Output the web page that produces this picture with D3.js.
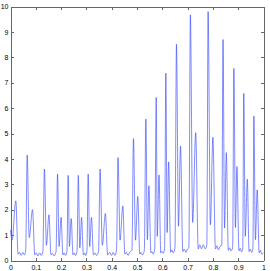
<!DOCTYPE html>
<html>
<head>
<meta charset="utf-8">
<script src="https://cdn.jsdelivr.net/npm/d3@7"></script>
<style>
  body { margin: 0; background: #fff; }
  .axis text { font-family: "Liberation Sans", Arial, sans-serif; font-size: 7px; fill: #000; }
  .axis path, .axis line { stroke: #666; shape-rendering: crispEdges; }
</style>
</head>
<body>
<div id="chart"></div>
<script>
const width = 270
const height = 271
const margin = { top: 6, bottom: 10, left: 10, right: 6 }

// tick values
const xTicks = [0, 0.1, 0.2, 0.3, 0.4, 0.5, 0.6, 0.7, 0.8, 0.9, 1]
const yTicks = [0, 1, 2, 3, 4, 5, 6, 7, 8, 9, 10]

// signal (x, amplitude)
const xs = [
  0, 0.006, 0.021, 0.03, 0.036, 0.042, 0.049, 0.055, 0.06,
  0.066, 0.074, 0.087, 0.096, 0.102, 0.108, 0.115, 0.121, 0.128,
  0.134, 0.142, 0.152, 0.160, 0.166, 0.172, 0.180,
  0.186, 0.192, 0.2, 0.207, 0.212, 0.217, 0.223,
  0.228, 0.233, 0.24, 0.247, 0.252, 0.257, 0.263,
  0.268, 0.274, 0.281, 0.288, 0.293, 0.297, 0.302,
  0.307, 0.313, 0.32, 0.328, 0.334, 0.34, 0.348,
  0.354, 0.363, 0.375, 0.384, 0.392, 0.399, 0.406, 0.412, 0.419,
  0.425, 0.433, 0.444, 0.452, 0.458, 0.465, 0.471, 0.480,
  0.486, 0.494, 0.503, 0.511, 0.516, 0.521, 0.529,
  0.535, 0.541, 0.547, 0.555, 0.559, 0.564, 0.570,
  0.576, 0.58, 0.587, 0.594, 0.598, 0.603, 0.609,
  0.614, 0.619, 0.625, 0.633, 0.638, 0.643, 0.650,
  0.656, 0.664, 0.672, 0.681, 0.687, 0.693, 0.699, 0.705,
  0.711, 0.72, 0.732, 0.742, 0.748, 0.755, 0.762, 0.769, 0.776,
  0.781, 0.79, 0.8, 0.81, 0.816, 0.822, 0.828, 0.835,
  0.84, 0.846, 0.853, 0.861, 0.866, 0.871, 0.878,
  0.883, 0.889, 0.895, 0.903, 0.908, 0.913, 0.918,
  0.922, 0.928, 0.936, 0.943, 0.948, 0.953, 0.958,
  0.962, 0.968, 0.975, 0.983, 0.988, 0.993, 1.0
]
const ys = [
  1.2, 0.8, 2.35, 0.25, 0.32, 0.2, 0.32, 0.22, 0.4,
  4.15, 0.9, 2.0, 0.22, 0.3, 0.18, 0.3, 0.2, 0.35,
  3.6, 0.6, 1.8, 0.22, 0.28, 0.18, 0.35,
  3.4, 0.55, 1.7, 0.22, 0.3, 0.2, 0.35,
  3.35, 0.55, 1.65, 0.22, 0.3, 0.2, 0.35,
  3.35, 0.5, 1.7, 0.22, 0.3, 0.2, 0.35,
  3.4, 0.55, 1.7, 0.22, 0.3, 0.2, 0.35,
  3.6, 0.6, 1.85, 0.22, 0.32, 0.2, 0.32, 0.2, 0.4,
  4.05, 0.8, 2.15, 0.25, 0.32, 0.2, 0.32, 0.4,
  4.8, 0.8, 2.52, 0.25, 0.32, 0.22, 0.4,
  5.57, 0.82, 2.94, 0.3, 0.35, 0.25, 0.45,
  6.42, 0.95, 3.37, 0.3, 0.36, 0.28, 0.45,
  7.38, 1.1, 3.88, 0.32, 0.42, 0.3, 0.5,
  8.51, 1.35, 4.5, 0.35, 0.45, 0.32, 0.45, 0.5,
  9.67, 1.5, 5.03, 0.45, 0.62, 0.46, 0.62, 0.46, 0.6,
  9.8, 1.41, 4.85, 0.45, 0.58, 0.42, 0.55, 0.6,
  8.7, 1.28, 4.25, 0.4, 0.5, 0.38, 0.5,
  7.56, 1.3, 3.7, 0.38, 0.48, 0.34, 0.48,
  6.58, 0.95, 3.2, 0.35, 0.45, 0.32, 0.45,
  5.69, 0.82, 2.78, 0.3, 0.4, 0.25, 0.3
]

const svg = d3.select("#chart")
    .append("svg")
    .attr("width", width)
    .attr("height", height)

const x = d3.scaleLinear().domain([0, 1]).range([margin.left + 0.5, width - margin.right - 0.5])
const y = d3.scaleLinear().domain([0, 10]).range([height - margin.bottom - 0.5, margin.top + 0.5])

// line
const data = xs.map((d, i) => ({ x: d, y: ys[i] }))
const line = d3.line()
    .x(d => x(d.x))
    .y(d => y(d.y))
    .curve(d3.curveMonotoneX)

svg.append("path")
    .attr("d", line(data))
    .attr("fill", "none")
    .attr("stroke", "#2a3cff")
    .attr("stroke-width", 0.6)

// axes, ticks pointing inward like matlab
svg.append("g").attr("class", "axis")
    .attr("transform", `translate(0, ${y(0)})`)
    .call(d3.axisBottom(x).tickValues(xTicks).tickFormat(d3.format("")).tickSizeInner(-3).tickSizeOuter(0).tickPadding(5))
svg.append("g").attr("class", "axis")
    .attr("transform", `translate(0, ${y(10)})`)
    .call(d3.axisTop(x).tickValues(xTicks).tickFormat("").tickSizeInner(-3).tickSizeOuter(0))
svg.append("g").attr("class", "axis")
    .attr("transform", `translate(${x(0)}, 0)`)
    .call(d3.axisLeft(y).tickValues(yTicks).tickSizeInner(-3).tickSizeOuter(0).tickPadding(2))
svg.append("g").attr("class", "axis")
    .attr("transform", `translate(${x(1)}, 0)`)
    .call(d3.axisRight(y).tickValues(yTicks).tickFormat("").tickSizeInner(-3).tickSizeOuter(0))
</script>
</body>
</html>
